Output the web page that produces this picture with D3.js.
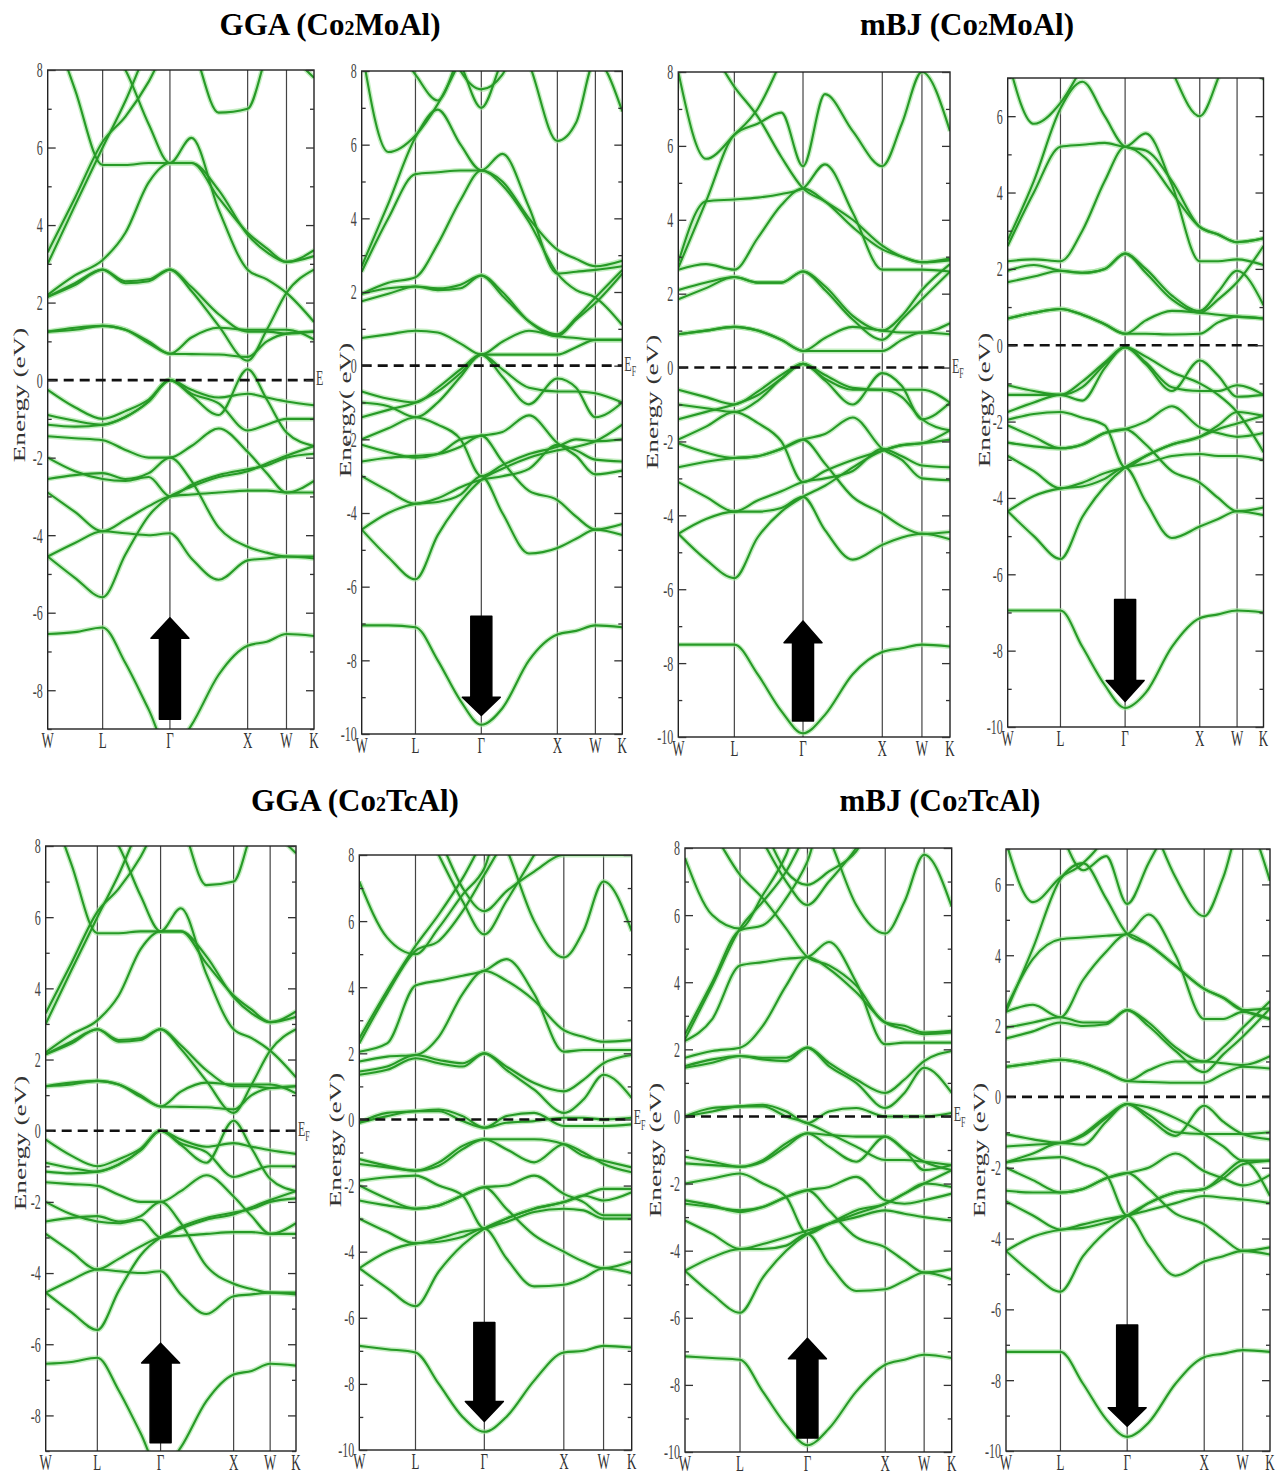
<!DOCTYPE html>
<html>
<head>
<meta charset="utf-8">
<script src="https://cdn.jsdelivr.net/npm/d3@7"></script>
<style>
	body { margin: 0; background: #fff; }
	svg { display: block; }
	text { font-family: "Liberation Serif", "Times New Roman", serif; }
</style>
</head>
<body>
<script>
// k-path W-L-G-X-W-K (fcc), sample points along it
var kTicks = [0, 0.707, 1.573, 2.573, 3.073, 3.427];
var kLabels = ['W', 'L', '\u0393', 'X', 'W', 'K'];
var kSamples = [0, 0.35, 0.707, 1.0, 1.3, 1.573, 1.85, 2.2, 2.573, 2.82, 3.073, 3.427];

var titleMethod = ['GGA', 'mBJ', 'GGA', 'mBJ'];
var titleCompound = ['Mo', 'Mo', 'Tc', 'Tc'];

// band energies (eV) at kSamples
var ggaMoUp = [
	[-6.55,-6.5,-6.38,-7.3,-8.5,-9.6,-8.9,-7.6,-6.85,-6.75,-6.55,-6.6],
	[-4.55,-5.1,-5.6,-4.5,-3.5,-3.0,-2.75,-2.5,-2.35,-2.15,-1.95,-1.7],
	[-4.55,-4.2,-3.9,-3.95,-4.0,-3.95,-4.6,-5.15,-4.65,-4.6,-4.55,-4.6],
	[-2.9,-3.4,-3.9,-3.6,-3.25,-3.0,-2.95,-2.9,-2.85,-2.85,-2.9,-2.9],
	[-2.55,-2.45,-2.4,-2.55,-2.4,-2.0,-2.6,-3.8,-4.3,-4.45,-4.55,-4.55],
	[-2.0,-2.35,-2.55,-2.6,-2.5,-3.0,-2.7,-2.45,-2.3,-2.2,-2.0,-1.9],
	[-1.45,-1.5,-1.55,-1.8,-2.0,-2.0,-1.7,-1.25,-1.85,-2.4,-2.9,-2.6],
	[-0.9,-1.05,-1.15,-0.95,-0.55,0,-0.4,-0.9,0.28,-0.5,-1.35,-1.7],
	[-0.25,-0.7,-1.0,-0.8,-0.5,0,-0.25,-0.45,-0.35,-0.45,-0.55,-0.65],
	[-1.15,-1.2,-1.15,-0.95,-0.55,0,-0.35,-0.6,-1.3,-1.15,-1.0,-1.0],
	[1.25,1.35,1.4,1.3,0.95,0.68,0.67,0.66,0.6,1.0,1.2,1.25],
	[1.25,1.3,1.4,1.3,1.0,0.68,1.1,1.35,1.3,1.3,1.3,1.05],
	[2.15,2.5,2.85,2.5,2.55,2.85,2.3,1.4,0.5,1.3,2.25,2.85],
	[2.15,2.45,2.85,2.55,2.6,2.85,2.4,1.7,1.25,1.25,1.2,1.25],
	[2.2,2.7,3.1,3.8,5.1,5.6,5.6,4.7,3.8,3.4,3.05,3.2],
	[9.5,7.5,5.55,5.55,5.6,5.6,6.25,4.4,2.85,2.6,2.25,1.5],
	[3.0,4.5,6.0,7.2,8.6,9.5,9.5,9.5,9.5,9.5,9.5,9.5],
	[3.3,4.7,6.15,6.8,7.7,8.8,9.5,9.5,9.5,9.5,9.5,9.5],
	[9.5,9.2,8.8,8.0,6.6,5.6,5.6,4.9,3.75,3.3,3.05,3.35],
	[9.5,9.5,9.5,9.5,9.5,9.5,8.7,6.9,7.0,8.4,9.5,9.5],
	[9.5,9.5,9.5,9.5,9.5,9.5,9.5,9.5,9.5,9.5,8.6,7.8]
];

var ggaMoDown = [
	[-7.05,-7.05,-7.1,-8.0,-9.1,-9.75,-9.3,-8.0,-7.3,-7.2,-7.05,-7.1],
	[-4.45,-5.2,-5.8,-4.6,-3.7,-3.1,-2.8,-2.5,-2.3,-2.2,-2.05,-1.6],
	[-4.45,-4.0,-3.75,-3.7,-3.5,-3.0,-4.0,-5.1,-4.95,-4.7,-4.45,-4.6],
	[-3.0,-3.4,-3.75,-3.6,-3.3,-3.1,-3.0,-2.8,-2.15,-2.3,-2.55,-2.6],
	[-2.6,-2.5,-2.45,-2.4,-2.2,-1.9,-2.6,-3.4,-3.65,-4.1,-4.45,-4.3],
	[-2.15,-2.35,-2.5,-2.4,-2.0,-1.9,-1.8,-1.35,-2.1,-2.45,-2.95,-2.85],
	[-2.0,-1.7,-1.4,-1.6,-2.0,-3.0,-2.7,-2.4,-2.2,-2.0,-2.05,-2.0],
	[-1.4,-1.2,-1.0,-0.7,-0.2,0.3,-0.3,-1.05,-0.35,-0.6,-1.4,-1.0],
	[-0.7,-0.9,-1.0,-0.6,-0.1,0.3,-0.1,-0.6,-0.7,-0.7,-0.75,-1.0],
	[-1.0,-1.1,-1.4,-1.0,-0.3,0.3,0.3,0.3,0.3,0.5,0.7,0.7],
	[0.75,0.85,0.95,0.9,0.6,0.3,0.65,0.95,0.8,0.75,0.7,0.7],
	[1.75,1.95,2.15,2.05,2.1,2.45,2.0,1.2,0.8,1.25,1.7,2.5],
	[1.95,2.1,2.15,2.1,2.2,2.45,1.9,1.2,0.85,1.3,1.85,2.6],
	[1.95,2.25,2.4,3.3,4.5,5.3,4.9,3.9,2.5,2.05,1.85,1.1],
	[2.55,4.0,5.2,5.25,5.3,5.3,5.0,4.0,3.15,2.9,2.7,2.85],
	[2.7,4.4,6.2,6.95,6.0,5.3,5.75,4.3,2.5,2.55,2.6,2.7],
	[8.6,5.8,6.25,7.1,8.3,9.5,9.5,9.5,9.5,9.5,9.5,9.5],
	[9.5,9.0,7.9,7.2,8.5,9.5,9.5,9.5,9.5,9.5,9.5,9.5],
	[9.5,9.5,9.5,9.5,8.2,7.0,8.3,9.5,9.5,9.5,9.5,9.5],
	[9.5,9.5,9.5,9.5,8.0,7.5,7.9,9.5,9.5,9.5,9.5,9.5],
	[9.5,9.5,9.5,9.5,9.5,9.5,9.5,8.2,6.1,6.6,8.3,6.9]
];

var mbjMoUp = [
	[-7.5,-7.5,-7.5,-8.3,-9.3,-9.9,-9.4,-8.3,-7.7,-7.6,-7.5,-7.55],
	[-4.5,-5.2,-5.7,-4.6,-3.9,-3.5,-3.2,-2.7,-2.25,-2.1,-2.05,-1.7],
	[-4.5,-4.1,-3.9,-3.9,-3.8,-3.5,-4.4,-5.2,-4.8,-4.6,-4.5,-4.65],
	[-3.1,-3.5,-3.9,-3.6,-3.35,-3.1,-3.0,-2.8,-2.2,-2.4,-2.65,-2.7],
	[-2.7,-2.55,-2.45,-2.4,-2.2,-1.95,-2.6,-3.5,-3.95,-4.3,-4.5,-4.45],
	[-2.05,-2.3,-2.45,-2.4,-2.2,-1.95,-1.8,-1.35,-2.2,-2.5,-3.0,-3.05],
	[-1.95,-1.6,-1.2,-1.5,-2.0,-3.1,-2.8,-2.5,-2.25,-2.1,-2.05,-1.95],
	[-1.4,-1.2,-1.0,-0.75,-0.3,0.1,-0.35,-1.0,-0.15,-0.5,-1.4,-0.95],
	[-0.6,-0.8,-1.0,-0.65,-0.2,0.1,-0.2,-0.55,-0.6,-0.6,-0.6,-0.95],
	[-1.0,-1.1,-1.2,-0.9,-0.3,0.1,-0.3,-0.6,-0.6,-0.8,-1.4,-1.7],
	[0.9,1.0,1.1,1.0,0.75,0.45,0.45,0.45,0.45,0.75,0.95,0.9],
	[0.9,1.0,1.1,1.0,0.75,0.45,0.8,1.1,1.0,0.95,0.95,1.2],
	[1.85,2.15,2.45,2.3,2.3,2.6,2.1,1.3,0.75,1.3,1.85,2.6],
	[2.1,2.3,2.45,2.3,2.3,2.6,2.2,1.4,1.0,1.4,2.1,2.8],
	[2.65,2.8,2.65,3.5,4.4,4.85,4.5,3.8,3.2,3.0,2.85,2.9],
	[2.85,4.5,4.55,4.6,4.7,4.85,5.5,4.2,2.65,2.65,2.65,2.6],
	[2.7,4.5,6.3,6.6,6.9,5.45,7.4,6.4,5.45,6.6,8.0,6.4],
	[8.0,5.65,6.3,7.0,8.3,9.5,9.5,9.5,9.5,9.5,9.5,9.5],
	[9.5,8.8,7.6,6.8,5.7,4.85,4.5,4.0,3.3,3.0,2.85,2.95]
];

var mbjMoDown = [
	[-6.95,-6.95,-6.95,-7.9,-8.9,-9.5,-9.1,-7.9,-7.15,-7.05,-6.95,-7.0],
	[-4.35,-5.0,-5.6,-4.5,-3.7,-3.2,-2.9,-2.6,-2.4,-2.2,-2.05,-1.85],
	[-4.35,-3.95,-3.75,-3.7,-3.5,-3.2,-4.1,-5.05,-4.75,-4.55,-4.35,-4.45],
	[-2.9,-3.3,-3.75,-3.6,-3.35,-3.2,-3.1,-2.9,-2.85,-2.9,-2.9,-3.0],
	[-2.55,-2.65,-2.7,-2.6,-2.3,-2.2,-2.6,-3.3,-3.6,-4.0,-4.35,-4.25],
	[-2.1,-2.4,-2.7,-2.6,-2.3,-2.2,-2.0,-1.6,-2.15,-2.3,-2.4,-2.3],
	[-1.95,-1.8,-1.75,-1.9,-2.1,-3.2,-2.9,-2.6,-2.4,-2.1,-1.75,-1.85],
	[-1.3,-1.3,-1.3,-1.1,-0.5,-0.05,-0.5,-1.2,-0.4,-0.8,-1.35,-1.3],
	[-1.05,-1.2,-1.3,-0.95,-0.45,-0.05,-0.45,-1.1,-1.2,-1.2,-1.05,-1.3],
	[-1.75,-1.5,-1.3,-1.45,-0.6,-0.05,-0.3,-0.7,-1.0,-1.3,-1.75,-2.8],
	[0.7,0.85,0.95,0.8,0.55,0.3,0.3,0.28,0.3,0.6,0.75,0.7],
	[0.7,0.85,0.95,0.8,0.55,0.3,0.65,0.9,0.85,0.8,0.75,0.7],
	[1.65,1.8,1.95,1.9,2.0,2.4,1.9,1.2,0.85,1.2,1.65,2.6],
	[1.95,2.1,1.95,1.9,2.0,2.4,2.0,1.3,0.9,1.4,1.95,1.05],
	[2.2,2.25,2.2,3.0,4.3,5.2,4.9,4.0,3.1,2.9,2.7,2.8],
	[2.6,4.0,5.2,5.25,5.3,5.2,5.55,4.2,2.2,2.2,2.25,2.1],
	[2.75,4.3,6.2,6.9,6.0,5.2,5.1,4.3,3.1,2.9,2.7,2.8],
	[7.5,5.8,6.35,7.3,8.5,9.5,9.5,9.5,9.5,9.5,9.5,9.5],
	[9.5,9.5,9.5,9.5,9.5,9.5,9.0,7.2,6.0,7.0,8.5,6.95]
];

// the Co2TcAl GGA spin-up plot is drawn with the same bands as Co2MoAl
var ggaTcUp = ggaMoUp;

var ggaTcDown = [
	[-6.85,-6.95,-7.05,-8.0,-9.0,-9.45,-9.0,-7.9,-7.05,-7.0,-6.85,-6.9],
	[-4.5,-5.1,-5.65,-4.6,-3.8,-3.3,-3.0,-2.7,-2.5,-2.3,-2.1,-2.1],
	[-4.5,-4.0,-3.75,-3.7,-3.55,-3.3,-4.2,-5.05,-5.0,-4.8,-4.5,-4.65],
	[-3.0,-3.4,-3.75,-3.6,-3.4,-3.3,-3.1,-2.8,-2.7,-2.75,-3.0,-3.0],
	[-2.45,-2.6,-2.7,-2.6,-2.3,-2.05,-2.7,-3.5,-4.0,-4.3,-4.5,-4.3],
	[-2.0,-2.4,-2.7,-2.6,-2.3,-2.05,-2.0,-1.7,-2.25,-2.5,-2.9,-2.9],
	[-1.85,-1.75,-1.7,-2.0,-2.3,-3.3,-3.0,-2.7,-2.5,-2.3,-2.45,-2.2],
	[-1.35,-1.45,-1.55,-1.3,-0.8,-0.6,-0.9,-1.3,-0.75,-1.0,-1.35,-1.6],
	[-1.2,-1.4,-1.55,-1.4,-0.9,-0.6,-0.6,-0.6,-0.75,-1.1,-1.25,-1.45],
	[-0.1,0.2,0.25,0.3,0.1,-0.25,0.1,0.2,-0.2,-0.2,-0.2,-0.15],
	[-0.1,0.1,0.25,0.25,-0.05,-0.25,-0.1,-0.05,0.05,0.05,0.0,0.05],
	[1.35,1.5,1.85,1.7,1.6,2.0,1.5,0.9,0.2,0.6,1.35,0.65],
	[1.45,1.6,1.95,1.8,1.7,2.0,1.6,1.1,0.85,1.2,1.7,1.95],
	[1.75,1.9,1.95,2.5,3.8,4.5,4.2,3.6,2.7,2.5,2.35,2.4],
	[2.05,2.3,4.05,4.2,4.35,4.5,4.85,3.8,2.05,2.1,2.1,2.1],
	[2.3,3.8,5.1,5.4,6.3,7.4,8.5,9.5,9.5,9.5,9.5,9.5],
	[2.45,3.9,5.25,6.2,7.3,8.5,9.5,9.5,9.5,9.5,9.5,9.5],
	[7.2,5.5,5.0,5.8,6.8,7.6,9.5,9.5,9.5,9.5,9.5,9.5],
	[9.5,9.5,9.5,8.0,6.6,5.6,6.6,8.0,9.5,9.5,9.5,9.5],
	[9.5,9.5,9.5,8.5,7.0,6.3,6.9,7.5,8.0,8.0,8.0,8.0],
	[9.5,9.5,9.5,9.5,9.5,9.5,8.2,6.0,4.9,5.7,7.2,5.7]
];

var mbjTcUp = [
	[-7.15,-7.2,-7.25,-8.2,-9.2,-9.8,-9.3,-8.2,-7.4,-7.25,-7.1,-7.2],
	[-4.6,-5.3,-5.85,-4.8,-4.0,-3.5,-3.2,-2.8,-2.6,-2.3,-2.0,-1.6],
	[-4.6,-4.2,-3.95,-3.95,-3.85,-3.5,-4.4,-5.2,-5.15,-4.9,-4.65,-4.85],
	[-3.1,-3.5,-3.95,-3.8,-3.6,-3.4,-3.2,-3.0,-2.8,-2.9,-3.0,-3.1],
	[-2.6,-2.7,-2.8,-2.7,-2.4,-2.2,-2.8,-3.6,-3.9,-4.3,-4.65,-4.55],
	[-2.5,-2.65,-2.85,-2.7,-2.4,-2.2,-2.1,-1.8,-2.5,-2.6,-2.5,-2.3],
	[-2.0,-1.85,-1.7,-2.0,-2.4,-3.5,-3.2,-2.9,-2.6,-2.3,-2.0,-2.1],
	[-1.4,-1.45,-1.5,-1.3,-0.8,-0.5,-0.9,-1.35,-0.6,-1.0,-1.35,-1.6],
	[-1.2,-1.35,-1.5,-1.35,-0.9,-0.5,-0.55,-0.6,-0.6,-1.0,-1.6,-1.45],
	[0.0,0.25,0.3,0.35,0.15,-0.2,0.15,0.25,0.0,0.0,0.0,0.1],
	[0.0,0.15,0.3,0.3,0.0,-0.2,-0.5,-0.9,-1.3,-1.3,-1.35,-1.45],
	[1.45,1.6,1.8,1.7,1.65,2.05,1.5,1.0,0.25,0.7,1.45,0.7],
	[1.5,1.7,1.8,1.75,1.75,2.05,1.6,1.1,0.7,1.1,1.65,1.95],
	[1.75,1.95,2.05,2.7,3.9,4.75,4.4,3.7,2.8,2.6,2.45,2.5],
	[2.25,2.9,4.5,4.6,4.7,4.75,5.2,4.0,2.15,2.2,2.2,2.2],
	[2.45,4.0,5.55,5.7,6.5,7.6,9.5,9.5,9.5,9.5,9.5,9.5],
	[2.3,3.9,5.6,6.4,7.3,8.5,9.5,9.5,9.5,9.5,9.5,9.5],
	[7.7,6.0,5.6,6.6,7.8,9.5,9.5,9.5,9.5,9.5,9.5,9.5],
	[9.5,8.5,7.2,6.5,5.6,4.75,4.5,3.9,2.8,2.7,2.5,2.55],
	[9.5,9.5,9.5,8.2,7.0,6.3,7.0,8.0,9.5,9.5,9.5,9.5],
	[9.5,9.5,9.5,8.6,7.3,6.9,7.3,7.9,9.5,9.5,9.5,9.5],
	[9.5,9.5,9.5,9.5,9.5,9.5,8.3,6.3,5.45,6.4,7.8,6.25]
];

var mbjTcDown = [
	[-7.2,-7.2,-7.2,-8.1,-9.1,-9.6,-9.2,-8.1,-7.35,-7.25,-7.15,-7.2],
	[-4.35,-5.0,-5.5,-4.5,-3.8,-3.35,-3.0,-2.7,-2.6,-2.3,-1.9,-1.8],
	[-4.35,-3.95,-3.75,-3.7,-3.55,-3.35,-4.2,-5.05,-4.65,-4.5,-4.35,-4.45],
	[-2.95,-3.35,-3.75,-3.6,-3.45,-3.35,-3.2,-3.0,-2.8,-2.85,-2.9,-3.0],
	[-2.65,-2.7,-2.7,-2.6,-2.3,-2.15,-2.6,-3.3,-3.6,-4.0,-4.35,-4.25],
	[-2.0,-2.35,-2.7,-2.6,-2.3,-2.15,-2.0,-1.6,-2.1,-2.3,-2.5,-2.2],
	[-1.85,-1.75,-1.7,-1.9,-2.2,-3.35,-3.0,-2.7,-2.6,-2.2,-1.8,-2.8],
	[-1.4,-1.35,-1.3,-1.05,-0.55,-0.2,-0.6,-1.1,-0.25,-0.7,-1.05,-1.2],
	[-1.05,-1.2,-1.3,-1.1,-0.6,-0.2,-0.5,-1.0,-1.05,-1.05,-1.05,-1.0],
	[-1.85,-1.6,-1.3,-1.35,-0.7,-0.2,-0.3,-0.6,-1.05,-1.4,-1.8,-1.8],
	[0.85,0.95,1.05,0.95,0.7,0.45,0.42,0.4,0.4,0.65,0.85,0.8],
	[0.85,0.95,1.05,0.95,0.7,0.45,0.75,1.0,1.0,0.95,0.9,1.15],
	[1.65,1.85,2.1,2.0,2.05,2.45,2.0,1.3,0.7,1.2,1.7,2.5],
	[1.95,2.1,2.25,2.1,2.1,2.45,2.1,1.4,1.0,1.4,1.95,2.7],
	[2.4,2.6,2.25,3.3,4.1,4.6,4.3,3.7,3.05,2.8,2.45,2.2],
	[2.5,3.9,4.45,4.5,4.55,4.6,5.15,4.0,2.2,2.2,2.4,2.2],
	[2.4,4.2,6.15,6.6,5.6,4.6,4.3,3.7,3.05,2.8,2.45,2.5],
	[7.2,5.5,6.2,6.6,7.5,9.5,9.5,9.5,9.5,9.5,9.5,9.5],
	[9.5,9.5,7.5,6.4,6.8,5.45,6.6,8.0,9.5,9.5,9.5,9.5],
	[9.5,9.5,9.5,9.5,9.5,9.5,8.0,6.2,5.1,6.2,7.8,6.1]
];

// spin arrows: energies of tip, head base and tail
var arrowTip = [-6.13, -9.5, -6.86, -9.33, -5.97, -9.14, -6.61, -9.3];
var arrowBase = [-6.66, -9.0, -7.45, -8.78, -6.53, -8.53, -7.22, -8.78];
var arrowTail = [-8.75, -6.8, -9.57, -6.66, -8.77, -6.14, -9.58, -6.44];

// panel layout
var panels = [
	{bands: ggaMoUp, x0: 47.7, x1: 314, y0: 70, y1: 729, dom: [-9, 8], lx: 25, ly: 395, label: 'Energy (eV)', ef: 'E'},
	{bands: ggaMoDown, x0: 361.7, x1: 622.3, y0: 71, y1: 734, dom: [-10, 8], lx: 351, ly: 410, label: 'Energy( eV)', ef: 'EF'},
	{bands: mbjMoUp, x0: 678.3, x1: 950, y0: 72, y1: 737, dom: [-10, 8], lx: 658, ly: 402, label: 'Energy (eV)', ef: 'EF'},
	{bands: mbjMoDown, x0: 1007.7, x1: 1263.5, y0: 78, y1: 727, dom: [-10, 7], lx: 990, ly: 400, label: 'Energy (eV)', ef: ''},
	{bands: ggaTcUp, x0: 45.7, x1: 296, y0: 846, y1: 1451, dom: [-9, 8], lx: 26, ly: 1143, label: 'Energy (eV)', ef: 'EF'},
	{bands: ggaTcDown, x0: 359.3, x1: 631.7, y0: 855, y1: 1450, dom: [-10, 8], lx: 341, ly: 1140, label: 'Energy (eV)', ef: 'EF'},
	{bands: mbjTcUp, x0: 685, x1: 951.7, y0: 848, y1: 1452, dom: [-10, 8], lx: 661, ly: 1150, label: 'Energy (eV)', ef: 'EF'},
	{bands: mbjTcDown, x0: 1006, x1: 1270, y0: 849, y1: 1451, dom: [-10, 7], lx: 985, ly: 1150, label: 'Energy (eV)', ef: ''}
];

var titlePos = [[330, 35], [967, 35], [355, 811], [940, 811]];

var stretch = 1.8;

var svg = d3.select('body').append('svg')
	.attr('width', 1281)
	.attr('height', 1482);

svg.append('rect')
	.attr('width', 1281)
	.attr('height', 1482)
	.attr('fill', '#fff');

var defs = svg.append('defs');

// titles
titlePos.forEach(function(p, i) {
	var t = svg.append('text')
		.attr('x', p[0])
		.attr('y', p[1])
		.attr('text-anchor', 'middle')
		.attr('font-weight', 'bold')
		.attr('font-size', 31)
		.attr('fill', '#000');
	t.append('tspan').text(titleMethod[i] + ' (Co');
	t.append('tspan').attr('font-size', 20).text('2');
	t.append('tspan').text(titleCompound[i] + 'Al)');
});

panels.forEach(function(p, i) {
	var x = d3.scaleLinear()
		.domain([0, kTicks[kTicks.length - 1]])
		.range([p.x0, p.x1]);

	var y = d3.scaleLinear()
		.domain(p.dom)
		.range([p.y1, p.y0]);

	defs.append('clipPath')
		.attr('id', 'clip' + i)
	.append('rect')
		.attr('x', p.x0)
		.attr('y', p.y0)
		.attr('width', p.x1 - p.x0)
		.attr('height', p.y1 - p.y0);

	var g = svg.append('g');

	// high symmetry lines
	g.selectAll('.kline')
		.data(kTicks.slice(1, -1))
	.enter().append('line')
		.attr('x1', function(d) { return x(d); })
		.attr('x2', function(d) { return x(d); })
		.attr('y1', p.y0)
		.attr('y2', p.y1)
		.attr('stroke', '#444')
		.attr('stroke-width', 1.2);

	var line = d3.line()
		.x(function(d, j) { return x(kSamples[j]); })
		.y(function(d) { return y(d); })
		.curve(d3.curveMonotoneX);

	var bg = g.append('g').attr('clip-path', 'url(#clip' + i + ')');

	bg.selectAll('.halo')
		.data(p.bands)
	.enter().append('path')
		.attr('d', line)
		.attr('fill', 'none')
		.attr('stroke', '#9fe29a')
		.attr('stroke-opacity', 0.6)
		.attr('stroke-width', 5);

	bg.selectAll('.band')
		.data(p.bands)
	.enter().append('path')
		.attr('d', line)
		.attr('fill', 'none')
		.attr('stroke', '#279a27')
		.attr('stroke-width', 2.1);

	// fermi level
	g.append('line')
		.attr('x1', p.x0)
		.attr('x2', p.x1)
		.attr('y1', y(0))
		.attr('y2', y(0))
		.attr('stroke', '#111')
		.attr('stroke-width', 2.6)
		.attr('stroke-dasharray', '10,6');

	// spin arrow at Gamma
	var cx = x(kTicks[2]), sw = 10.5, hw = 19;
	var yt = y(arrowTip[i]), yb = y(arrowBase[i]), yl = y(arrowTail[i]);
	g.append('path')
		.attr('d', 'M' + (cx - sw) + ',' + yl + 'L' + (cx - sw) + ',' + yb +
			'L' + (cx - hw) + ',' + yb + 'L' + cx + ',' + yt +
			'L' + (cx + hw) + ',' + yb + 'L' + (cx + sw) + ',' + yb +
			'L' + (cx + sw) + ',' + yl + 'Z')
		.attr('fill', '#000')
		.attr('stroke', '#000')
		.attr('stroke-width', 1.5)
		.attr('stroke-linejoin', 'round');

	// frame
	g.append('rect')
		.attr('x', p.x0)
		.attr('y', p.y0)
		.attr('width', p.x1 - p.x0)
		.attr('height', p.y1 - p.y0)
		.attr('fill', 'none')
		.attr('stroke', '#222')
		.attr('stroke-width', 1.4);

	var majors = d3.range(Math.ceil(p.dom[0] / 2) * 2, p.dom[1] + 0.01, 2);
	var minors = d3.range(Math.ceil(p.dom[0]), p.dom[1] + 0.01, 1)
		.filter(function(d) { return Math.abs(d % 2) === 1; });

	function tidy(sel) {
		sel.select('.domain').remove();
		sel.selectAll('line').attr('stroke', '#333').attr('stroke-width', 1.3);
	}

	g.append('g')
		.attr('transform', 'translate(' + p.x0 + ',0)')
		.call(d3.axisLeft(y).tickValues(majors).tickSize(-8).tickPadding(5)
			.tickFormat(function(d) { return String(d); }))
		.call(tidy)
		.call(function(a) {
			a.selectAll('text')
				.attr('font-family', '"Liberation Serif", serif')
				.attr('font-size', 12)
				.attr('fill', '#444')
				.attr('transform', 'scale(1,' + stretch + ')');
		});

	g.append('g')
		.attr('transform', 'translate(' + p.x0 + ',0)')
		.call(d3.axisLeft(y).tickValues(minors).tickSize(-4).tickFormat(''))
		.call(tidy);

	g.append('g')
		.attr('transform', 'translate(' + p.x1 + ',0)')
		.call(d3.axisRight(y).tickValues(majors).tickSize(-8).tickFormat(''))
		.call(tidy);

	g.append('g')
		.attr('transform', 'translate(' + p.x1 + ',0)')
		.call(d3.axisRight(y).tickValues(minors).tickSize(-4).tickFormat(''))
		.call(tidy);

	// k labels
	g.selectAll('.klabel')
		.data(kTicks)
	.enter().append('text')
		.attr('transform', function(d) {
			return 'translate(' + x(d) + ',' + (p.y1 + 19) + ') scale(1,' + stretch + ')';
		})
		.attr('text-anchor', 'middle')
		.attr('font-size', 13)
		.attr('fill', '#333')
		.text(function(d, j) { return kLabels[j]; });

	// y label
	g.append('text')
		.attr('transform', 'translate(' + p.lx + ',' + p.ly + ') scale(1,1.7) rotate(-90)')
		.attr('text-anchor', 'middle')
		.attr('font-size', 16)
		.attr('fill', '#333')
		.text(p.label);

	// E_F label
	if (p.ef) {
		var ef = g.append('text')
			.attr('transform', 'translate(' + (p.x1 + 2) + ',' + (y(0) + 5) + ') scale(1,' + stretch + ')')
			.attr('font-size', 12)
			.attr('fill', '#444');
		ef.append('tspan').text('E');
		if (p.ef.length > 1) {
			ef.append('tspan').attr('font-size', 8).attr('dy', 3).text('F');
		}
	}
});
</script>
</body>
</html>
